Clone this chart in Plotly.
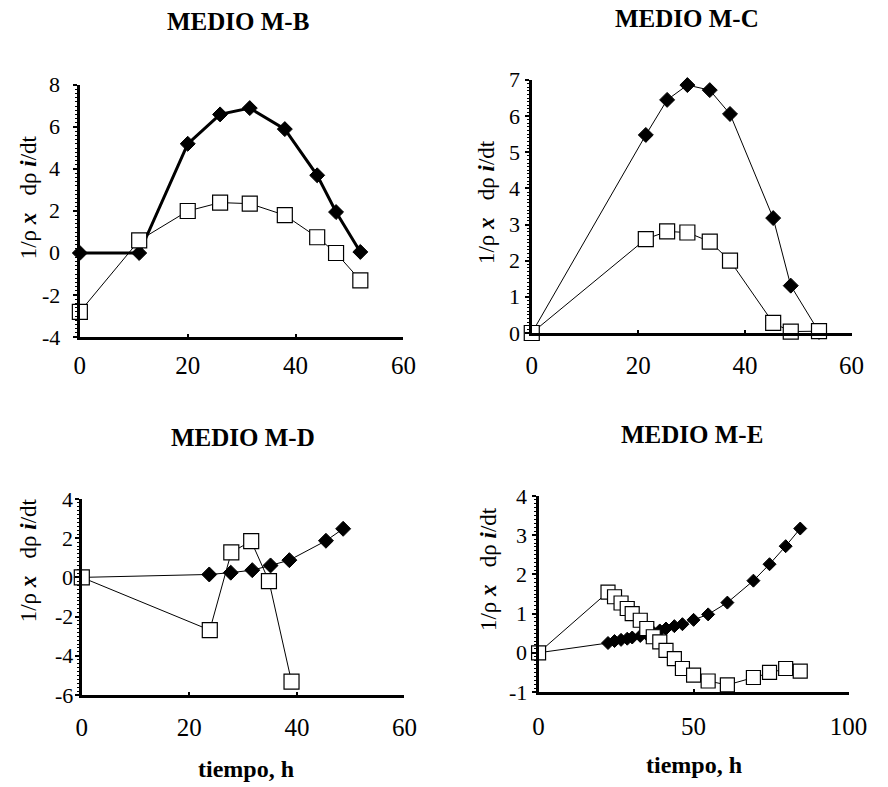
import plotly.graph_objects as go

# ---- data: specific rates vs time (h) for four culture media ----
# MEDIO M-B
t_b = [0, 11, 20, 26, 31.5, 38, 44, 47.5, 52]
b_diamond = [0, 0, 5.2, 6.6, 6.9, 5.9, 3.7, 1.95, 0.05]
b_square = [-2.8, 0.6, 2.0, 2.4, 2.35, 1.8, 0.75, 0.0, -1.3]

# MEDIO M-C
t_c = [0, 21.4, 25.4, 29.2, 33.4, 37.2, 45.3, 48.6, 53.9]
c_diamond = [0, 5.48, 6.45, 6.86, 6.72, 6.06, 3.18, 1.31, 0.03]
c_square = [0, 2.6, 2.81, 2.78, 2.53, 2.0, 0.28, 0.04, 0.05]

# MEDIO M-D
t_d_diamond = [0, 23.7, 27.7, 31.7, 35.1, 38.6, 45.4, 48.6]
d_diamond = [0, 0.15, 0.24, 0.37, 0.61, 0.88, 1.87, 2.48]
t_d_square = [0, 23.8, 27.8, 31.5, 34.8, 39.0]
d_square = [0, -2.69, 1.28, 1.85, -0.19, -5.32]

# MEDIO M-E
t_e = [0, 22.4, 24.5, 26.6, 28.6, 30.2, 32.8, 34.9, 37.0, 39.1, 41.1,
       43.8, 46.4, 50.0, 54.7, 60.9, 69.3, 74.5, 79.7, 84.4]
e_diamond = [0, 0.25, 0.30, 0.33, 0.36, 0.39, 0.43, 0.47, 0.52, 0.57, 0.62,
             0.68, 0.73, 0.84, 0.98, 1.28, 1.84, 2.26, 2.72, 3.17]
e_square = [0, 1.55, 1.43, 1.27, 1.13, 1.00, 0.83, 0.62, 0.41, 0.28, 0.06,
            -0.15, -0.40, -0.57, -0.72, -0.82, -0.63, -0.50, -0.40, -0.47]

# axis ticks (labels use a plain hyphen for negatives)
y_ticks_b = [-4, -2, 0, 2, 4, 6, 8]
y_ticks_c = [0, 1, 2, 3, 4, 5, 6, 7]
y_ticks_d = [-6, -4, -2, 0, 2, 4]
y_ticks_e = [-1, 0, 1, 2, 3, 4]
x_ticks_60 = [0, 20, 40, 60]
x_ticks_100 = [0, 50, 100]

titles = ["MEDIO M-B", "MEDIO M-C", "MEDIO M-D", "MEDIO M-E"]
y_label = "1/ρ <b><i>x</i></b>&nbsp;&nbsp; dρ <b><i>i</i></b>/dt"
x_label = "tiempo, h"

W, H = 888, 787
FONT = "Liberation Serif, Times New Roman, serif"


def px_x(p):
    return p / W


def px_y(p):
    return 1 - p / H


def tick_text(vals):
    return [str(v) for v in vals]


# plot areas in pixels: (left, right, top, bottom)
boxes = [(76, 409, 85, 337), (541, 870, 80, 333),
         (78, 410, 499, 695), (548, 867, 496, 692)]
xranges = [[0, 60], [0, 60], [0, 60], [0, 100]]
xticks = [x_ticks_60, x_ticks_60, x_ticks_60, x_ticks_100]
yranges = [[-4, 8], [0, 7], [-6, 4], [-1, 4]]
yticks = [y_ticks_b, y_ticks_c, y_ticks_d, y_ticks_e]
yminor = [0.2, 0.1, 0.2, 0.1]
# right edge (px) of the y tick label column of each panel
ylabel_edge = [57, 530, 70, 537]
xstandoff = [4, 8, 8, 10]

fig = go.Figure()

diamond_sets = [(t_b, b_diamond, 3), (t_c, c_diamond, 1),
                (t_d_diamond, d_diamond, 1), (t_e, e_diamond, 1)]
square_sets = [(t_b, b_square), (t_c, c_square),
               (t_d_square, d_square), (t_e, e_square)]

for i in range(4):
    xa = "x" if i == 0 else f"x{i + 1}"
    ya = "y" if i == 0 else f"y{i + 1}"
    dsize = 11.5 if i < 3 else 10
    ssize = 15 if i < 3 else 14
    tx, ty, lw = diamond_sets[i]
    fig.add_trace(go.Scatter(
        x=tx, y=ty, xaxis=xa, yaxis=ya, mode="lines+markers",
        line=dict(color="black", width=lw),
        marker=dict(symbol="diamond", size=dsize, color="black",
                    line=dict(color="black", width=1)),
        cliponaxis=False, showlegend=False))
    sx, sy = square_sets[i]
    fig.add_trace(go.Scatter(
        x=sx, y=sy, xaxis=xa, yaxis=ya, mode="lines+markers",
        line=dict(color="black", width=1),
        marker=dict(symbol="square", size=ssize, color="white",
                    line=dict(color="black", width=1.2)),
        cliponaxis=False, showlegend=False))

layout = dict(
    width=W, height=H, margin=dict(l=0, r=0, t=0, b=0),
    paper_bgcolor="white", plot_bgcolor="white",
    font=dict(family=FONT, color="black"),
)

for i, (l, r, t, b) in enumerate(boxes):
    xk = "xaxis" if i == 0 else f"xaxis{i + 1}"
    yk = "yaxis" if i == 0 else f"yaxis{i + 1}"
    ya = "y" if i == 0 else f"y{i + 1}"
    xa = "x" if i == 0 else f"x{i + 1}"
    layout[xk] = dict(
        domain=[px_x(l), px_x(r)], anchor=ya, range=xranges[i],
        tickvals=xticks[i], ticktext=tick_text(xticks[i]),
        showgrid=False, zeroline=False,
        showline=True, linecolor="black", linewidth=2.5,
        ticks="inside", ticklen=3, tickwidth=2, tickcolor="black",
        tickfont=dict(size=25, family=FONT), ticklabelstandoff=xstandoff[i],
    )
    layout[yk] = dict(
        domain=[px_y(b), px_y(t)], anchor=xa, range=yranges[i],
        tickvals=yticks[i], showticklabels=False,
        showgrid=False, zeroline=False,
        showline=True, linecolor="black", linewidth=2.5,
        ticks="outside", ticklen=4, tickwidth=2, tickcolor="black",
        minor=dict(dtick=yminor[i], tick0=0, ticks="outside", ticklen=2,
                   tickwidth=1, tickcolor="black"),
    )

fig.update_layout(**layout)

# y tick labels, placed on each panel's y scale
for i in range(4):
    ya = "y" if i == 0 else f"y{i + 1}"
    for v, txt in zip(yticks[i], tick_text(yticks[i])):
        fig.add_annotation(x=px_x(ylabel_edge[i]), xref="paper",
                           y=v, yref=ya, text=txt, showarrow=False,
                           xanchor="right", yanchor="middle", borderpad=0,
                           font=dict(size=22, family=FONT, color="black"))

# panel titles
title_pos = [(239, 22), (701, 18), (244, 437), (706, 434)]
for (cx, cy), txt in zip(title_pos, titles):
    fig.add_annotation(x=px_x(cx), y=px_y(cy), xref="paper", yref="paper",
                       text=f"<b>{txt}</b>", showarrow=False,
                       font=dict(size=25, family=FONT, color="black"),
                       xanchor="center", yanchor="middle")

# y-axis titles
ytitle_pos = [(23, 197), (494, 202), (23, 560), (496, 569)]
for cx, cy in ytitle_pos:
    fig.add_annotation(x=px_x(cx), y=px_y(cy), xref="paper", yref="paper",
                       text=y_label, textangle=-90, showarrow=False,
                       font=dict(size=23, family=FONT, color="black"),
                       xanchor="center", yanchor="middle")

# x-axis titles on the bottom row
xtitle_pos = [(247, 769), (708, 765)]
for cx, cy in xtitle_pos:
    fig.add_annotation(x=px_x(cx), y=px_y(cy), xref="paper", yref="paper",
                       text=f"<b>{x_label}</b>", showarrow=False,
                       font=dict(size=24, family=FONT, color="black"),
                       xanchor="center", yanchor="middle")

fig.write_html("out.html")
